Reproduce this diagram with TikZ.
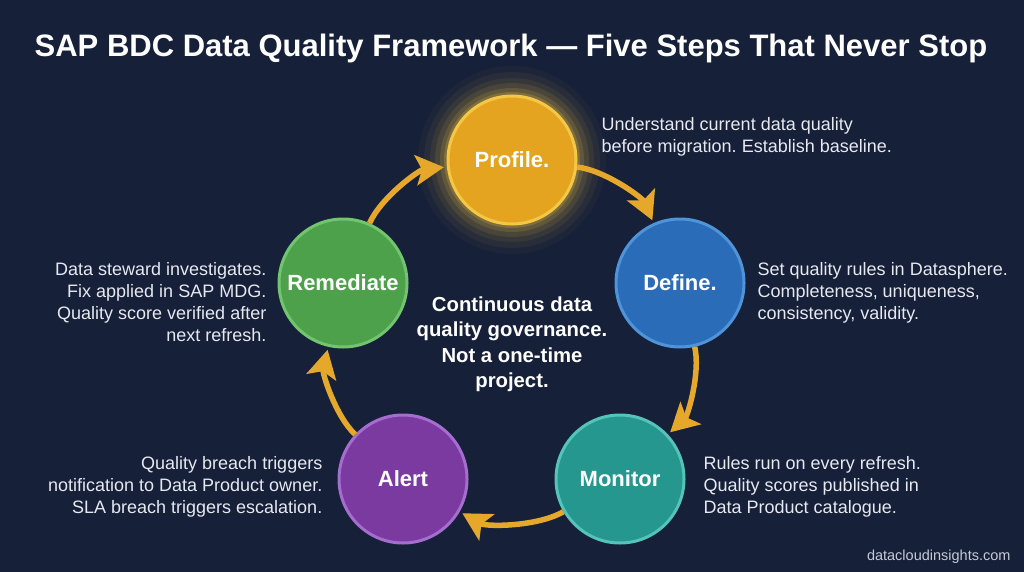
\documentclass[tikz,border=0pt]{standalone}
\usepackage{fontspec}
\setmainfont{Liberation Sans}
\usepackage{tikz}
\usetikzlibrary{arrows.meta, positioning}
\definecolor{bgnavy}{HTML}{172039}
\definecolor{flowgold}{HTML}{E6A82A}
\definecolor{notetext}{HTML}{E6E9F0}
\definecolor{markgray}{HTML}{C5CAD6}
\definecolor{profilefill}{HTML}{E4A41F}
\definecolor{profileedge}{HTML}{F5C746}
\definecolor{definefill}{HTML}{2B6CB8}
\definecolor{defineedge}{HTML}{4F93D8}
\definecolor{monitorfill}{HTML}{25978E}
\definecolor{monitoredge}{HTML}{55C3BA}
\definecolor{alertfill}{HTML}{7A3AA0}
\definecolor{alertedge}{HTML}{A66DD0}
\definecolor{remedfill}{HTML}{4DA14B}
\definecolor{remededge}{HTML}{72C56E}
\frenchspacing
\tikzset{
    stepnode/.style={circle, minimum size=128pt, inner sep=0pt, line width=3pt, text=white, font=\fontsize{22}{24}\selectfont\bfseries},
    note/.style={inner sep=0pt, text=notetext, font=\fontsize{18}{22}\selectfont},
    flow/.style={-{Stealth[length=28pt, width=30pt, inset=6pt]}, line width=5.5pt, draw=flowgold, bend left=30, looseness=0.75, shorten >=3pt}
}
\begin{document}
\begin{tikzpicture}[x=1pt, y=1pt]
    % page and glow
    \fill [bgnavy] (0,0) rectangle (1024,-572);
    \foreach \r/\o in {94/0.03, 88/0.05, 82/0.07, 77/0.10, 72/0.14, 68/0.20}
        \fill [profileedge, opacity=\o] (512,-160) circle (\r pt);

    \node [font=\fontsize{31}{34}\selectfont\bfseries, text=white] (title) at (511,-48) {SAP BDC Data Quality Framework — Five Steps That Never Stop};

    % the five steps
    \node [stepnode, fill=profilefill, draw=profileedge] (profile) at (512,-160) {Profile.};
    \node [stepnode, fill=definefill, draw=defineedge] (define) at (680,-283) {Define.};
    \node [stepnode, fill=monitorfill, draw=monitoredge] (monitor) at (620,-479) {Monitor};
    \node [stepnode, fill=alertfill, draw=alertedge] (alert) at (403,-479) {Alert};
    \node [stepnode, fill=remedfill, draw=remededge] (remediate) at (343,-283) {Remediate};

    \node [text=white, align=center, font=\fontsize{20.3}{25.5}\selectfont\bfseries] (core) at (512,-344) {Continuous data\\quality governance.\\Not a one-time\\project.};

    % notes
    \node [note, align=left, right=24pt of profile, yshift=23pt] (profilenote) {Understand current data quality\\before migration. Establish baseline.};
    \node [note, align=left, right=12pt of define, yshift=-10pt] (definenote) {Set quality rules in Datasphere.\\Completeness, uniqueness,\\consistency, validity.};
    \node [note, align=left, right=18pt of monitor, yshift=-8pt] (monitornote) {Rules run on every refresh.\\Quality scores published in\\Data Product catalogue.};
    \node [note, align=right, left=15pt of alert, yshift=-8pt] (alertnote) {Quality breach triggers\\notification to Data Product owner.\\SLA breach triggers escalation.};
    \node [note, align=right, left=11pt of remediate, yshift=-19pt] (remediatenote) {Data steward investigates.\\Fix applied in SAP MDG.\\Quality score verified after\\next refresh.};

    \node [anchor=east, text=markgray, font=\fontsize{14.5}{16}\selectfont] (mark) at (1014,-557) {datacloudinsights.com};

    % cycle
    \draw [flow] (profile) to (define);
    \draw [flow] (define) to (monitor);
    \draw [flow] (monitor) to (alert);
    \draw [flow] (alert) to (remediate);
    \draw [flow] (remediate) to (profile);
\end{tikzpicture}
\end{document}
